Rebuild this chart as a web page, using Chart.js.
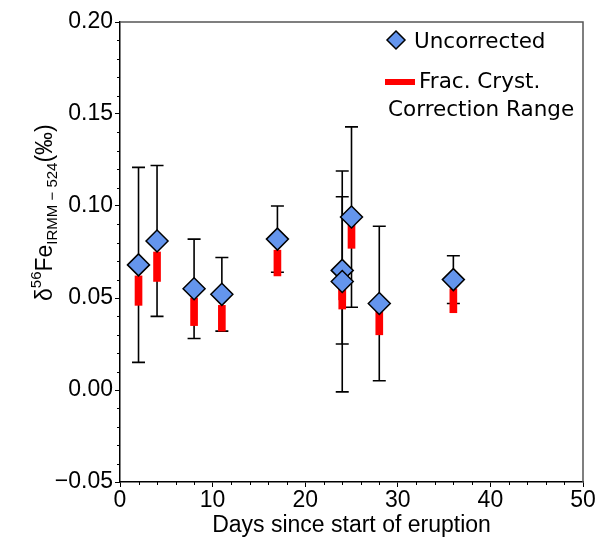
<!DOCTYPE html>
<html>
<head>
<meta charset="utf-8">
<script src="https://cdn.jsdelivr.net/npm/chart.js@4/dist/chart.umd.min.js"></script>
<style>
  body { margin: 0; background: #fff; }
  #wrap { width: 596px; height: 541px; }
</style>
</head>
<body>
<div id="wrap"><canvas id="feChart"></canvas></div>
<script>
// data
const days        = [2, 4, 8, 11, 17, 24, 24, 25, 28, 36];
const uncorrected = [0.068, 0.081, 0.055, 0.052, 0.082, 0.065, 0.059, 0.094, 0.047, 0.060];
const errors      = [0.053, 0.041, 0.027, 0.020, 0.018, 0.040, 0.060, 0.049, 0.042, 0.013];
const corrLow     = [0.046, 0.059, 0.035, 0.032, 0.062, 0.049, 0.044, 0.077, 0.030, 0.042];
const corrHigh    = [0.062, 0.075, 0.050, 0.046, 0.076, 0.059, 0.059, 0.090, 0.044, 0.055];
const xTicks = [0, 10, 20, 30, 40, 50];
const yTicks = [-0.05, 0.00, 0.05, 0.10, 0.15, 0.20];

const AXIS_FONT = 'Liberation Sans, Arial, sans-serif';
const LEGEND_FONT = 'DejaVu Sans, Verdana, sans-serif';
const BLUE = '#6495ED';

// error bars behind everything, then frame / minor ticks / title / legend on top
const extras = {
    id: 'extras',
    beforeDatasetsDraw(chart) {
        const { ctx, scales: { x, y } } = chart;
        ctx.save();
        ctx.strokeStyle = '#000';
        ctx.lineWidth = 1.6;
        days.forEach((d, i) => {
            const px = x.getPixelForValue(d);
            const top = y.getPixelForValue(uncorrected[i] + errors[i]);
            const bot = y.getPixelForValue(uncorrected[i] - errors[i]);
            ctx.beginPath();
            ctx.moveTo(px, top); ctx.lineTo(px, bot);
            ctx.moveTo(px - 6.5, top); ctx.lineTo(px + 6.5, top);
            ctx.moveTo(px - 6.5, bot); ctx.lineTo(px + 6.5, bot);
            ctx.stroke();
        });
        ctx.restore();
    },
    afterDraw(chart) {
        const { ctx, chartArea: a, scales: { x, y } } = chart;
        ctx.save();

        // top and right frame
        ctx.strokeStyle = '#555';
        ctx.lineWidth = 1.5;
        ctx.beginPath();
        ctx.moveTo(a.left, a.top); ctx.lineTo(a.right, a.top); ctx.lineTo(a.right, a.bottom);
        ctx.stroke();

        // minor ticks
        ctx.strokeStyle = '#000';
        ctx.lineWidth = 1;
        ctx.beginPath();
        for (let v = 2; v < 50; v += 2) {
            if (v % 10 === 0) continue;
            const px = Math.round(x.getPixelForValue(v)) + 0.5;
            ctx.moveTo(px, a.bottom); ctx.lineTo(px, a.bottom + 3);
        }
        for (let k = -4; k < 20; k++) {
            if (k % 5 === 0) continue;
            const py = Math.round(y.getPixelForValue(k / 100)) + 0.5;
            ctx.moveTo(a.left, py); ctx.lineTo(a.left - 3, py);
        }
        ctx.stroke();

        // y axis title: δ56Fe IRMM-524 (‰)
        ctx.translate(52, 301);
        ctx.rotate(-Math.PI / 2);
        ctx.fillStyle = '#000';
        ctx.textBaseline = 'alphabetic';
        let cx = 0;
        const part = (txt, size, dy) => {
            ctx.font = size + 'px ' + AXIS_FONT;
            ctx.fillText(txt, cx, dy);
            cx += ctx.measureText(txt).width;
        };
        part('\u03b4', 23, 0);
        part('56', 15, -11);
        part('Fe', 23, 0);
        part('IRMM \u2212 524', 15, 5);
        part('(\u2030)', 23, 0);
        ctx.setTransform(1, 0, 0, 1, 0, 0);

        // legend
        ctx.fillStyle = BLUE;
        ctx.strokeStyle = '#000';
        ctx.lineWidth = 1.5;
        ctx.beginPath();
        ctx.moveTo(396, 31); ctx.lineTo(405, 40); ctx.lineTo(396, 49); ctx.lineTo(387, 40);
        ctx.closePath();
        ctx.fill(); ctx.stroke();
        ctx.fillStyle = 'red';
        ctx.fillRect(385, 79, 30, 6);
        ctx.fillStyle = '#000';
        ctx.font = '21.5px ' + LEGEND_FONT;
        ctx.textBaseline = 'middle';
        ctx.fillText('Uncorrected', 414, 42);
        ctx.fillText('Frac. Cryst.', 419, 82);
        ctx.fillText('Correction Range', 388, 110);
        ctx.restore();
    }
};

new Chart(document.getElementById('feChart'), {
    type: 'scatter',
    data: {
        datasets: [
            {
                label: 'Uncorrected',
                data: days.map((d, i) => ({ x: d, y: uncorrected[i] })),
                pointStyle: 'rectRot',
                pointRadius: 11,
                pointHoverRadius: 11,
                backgroundColor: BLUE,
                borderColor: '#000',
                borderWidth: 1.5,
                order: 0
            },
            {
                type: 'bar',
                label: 'Frac. Cryst. Correction Range',
                data: days.map((d, i) => ({ x: d, y: [corrLow[i], corrHigh[i]] })),
                backgroundColor: 'red',
                barThickness: 7,
                grouped: false,
                order: 1
            }
        ]
    },
    options: {
        responsive: true,
        maintainAspectRatio: false,
        animation: false,
        layout: { padding: { top: 22, right: 13, left: 0, bottom: 0 } },
        plugins: { legend: { display: false }, tooltip: { enabled: false } },
        scales: {
            x: {
                type: 'linear',
                min: 0, max: 50,
                offset: false,
                afterFit: s => { s.height = 59; },
                afterBuildTicks: s => { s.ticks = xTicks.map(v => ({ value: v })); },
                ticks: { color: '#000', font: { family: AXIS_FONT, size: 23 }, padding: 0, maxRotation: 0 },
                grid: { drawOnChartArea: false, drawTicks: true, tickLength: 5, color: '#000', offset: false },
                border: { color: '#000', width: 1.5 },
                title: {
                    display: true, text: 'Days since start of eruption',
                    color: '#000', font: { family: AXIS_FONT, size: 23 }, padding: { top: 0, bottom: 2 }
                }
            },
            y: {
                min: -0.05, max: 0.20,
                afterFit: s => { s.width = 120; },
                afterBuildTicks: s => { s.ticks = yTicks.map(v => ({ value: v })); },
                ticks: {
                    color: '#000', font: { family: AXIS_FONT, size: 23 }, padding: 2,
                    callback: v => (v < 0 ? '\u2212' : '') + Math.abs(v).toFixed(2)
                },
                grid: { drawOnChartArea: false, drawTicks: true, tickLength: 5, color: '#000' },
                border: { color: '#000', width: 1.5 }
            }
        }
    },
    plugins: [extras]
});
</script>
</body>
</html>
